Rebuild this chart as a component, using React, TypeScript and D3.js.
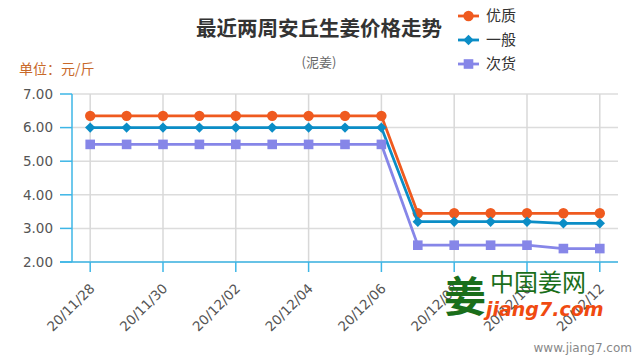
import React from "react";
import * as d3 from "d3";

const dates = [
  "20/11/28", "20/11/29", "20/11/30", "20/12/01", "20/12/02", "20/12/03", "20/12/04",
  "20/12/05", "20/12/06", "20/12/07", "20/12/08", "20/12/09", "20/12/10", "20/12/11", "20/12/12",
];
const youzhi = [6.35, 6.35, 6.35, 6.35, 6.35, 6.35, 6.35, 6.35, 6.35, 3.45, 3.45, 3.45, 3.45, 3.45, 3.45];
const yiban = [6.0, 6.0, 6.0, 6.0, 6.0, 6.0, 6.0, 6.0, 6.0, 3.2, 3.2, 3.2, 3.2, 3.15, 3.15];
const cihuo = [5.5, 5.5, 5.5, 5.5, 5.5, 5.5, 5.5, 5.5, 5.5, 2.5, 2.5, 2.5, 2.5, 2.4, 2.4];
const yTicks = [2, 3, 4, 5, 6, 7];

const seriesNames = ["优质", "一般", "次货"];
const seriesColors = ["#ef5a1f", "#0b8dc6", "#8686e8"];
const seriesShapes = ["circle", "diamond", "square"];

const W = 640;
const H = 360;
const L = 72;
const R = 618;
const T = 94;
const B = 262;

function Marker({ shape, x, y, color }: { shape: string; x: number; y: number; color: string }) {
  if (shape === "circle") return <circle cx={x} cy={y} r={5.2} fill={color} />;
  if (shape === "diamond")
    return <path d={`M${x},${y - 5.2}L${x + 5.2},${y}L${x},${y + 5.2}L${x - 5.2},${y}Z`} fill={color} />;
  return <rect x={x - 4.8} y={y - 4.8} width={9.6} height={9.6} fill={color} />;
}

export default function App() {
  const x = d3.scalePoint<string>().domain(dates).range([L, R]).padding(0.5);
  const y = d3.scaleLinear().domain([2, 7]).range([B, T]);
  const data = [youzhi, yiban, cihuo];
  const line = d3
    .line<number>()
    .x((_, i) => x(dates[i]) as number)
    .y((d) => y(d));
  const axisColor = "#3db6e6";
  const labeled = dates.filter((_, i) => i % 2 === 0);

  return (
    <svg width={W} height={H} style={{ position: "absolute", left: 0, top: 0, background: "#fff" }}
      fontFamily="'DejaVu Sans', Verdana, sans-serif">
      {/* grid */}
      {yTicks.map((t) => (
        <line key={"g" + t} x1={L} x2={R} y1={y(t)} y2={y(t)} stroke="#dcdcdc" strokeWidth={1.5} />
      ))}
      {labeled.map((d) => (
        <line key={"v" + d} x1={x(d)} x2={x(d)} y1={T} y2={B} stroke="#d8d8d8" strokeWidth={1.5} />
      ))}
      {/* axes */}
      <line x1={L} x2={L} y1={T} y2={B} stroke={axisColor} strokeWidth={1.5} />
      <line x1={60} x2={R} y1={B} y2={B} stroke={axisColor} strokeWidth={1.5} />
      {yTicks.map((t) => (
        <g key={"yt" + t}>
          <line x1={60} x2={L} y1={y(t)} y2={y(t)} stroke={axisColor} strokeWidth={1.5} />
          <text x={53} y={y(t)} dy="0.35em" textAnchor="end" fontSize={13.5} fill="#555">
            {t.toFixed(2)}
          </text>
        </g>
      ))}
      {labeled.map((d) => (
        <g key={"xt" + d}>
          <line x1={x(d)} x2={x(d)} y1={B} y2={B + 10} stroke={axisColor} strokeWidth={1.5} />
          <text
            transform={`translate(${(x(d) as number) + 2},${B + 24}) rotate(-45)`}
            textAnchor="end"
            fontSize={13.5}
            fill="#555"
            dy="0.35em"
          >
            {d}
          </text>
        </g>
      ))}
      {/* series */}
      {data.map((s, si) => (
        <g key={"s" + si}>
          <path d={line(s) || ""} fill="none" stroke={seriesColors[si]} strokeWidth={2.8} />
          {s.map((v, i) => (
            <Marker key={i} shape={seriesShapes[si]} x={x(dates[i]) as number} y={y(v)} color={seriesColors[si]} />
          ))}
        </g>
      ))}
      {/* titles */}
      <text x={319} y={36} textAnchor="middle" fontSize={20.5} fontWeight="bold" fill="#333"
        fontFamily="'Noto Sans CJK SC', sans-serif">
        最近两周安丘生姜价格走势
      </text>
      <text x={319} y={67} textAnchor="middle" fontSize={13} fill="#666"
        fontFamily="'Noto Sans CJK SC', sans-serif">
        (泥姜)
      </text>
      <text x={19} y={74} fontSize={14} fill="#c8692a" fontFamily="'Noto Sans CJK SC', sans-serif">
        单位：元/斤
      </text>
      {/* legend */}
      {seriesNames.map((n, i) => (
        <g key={"l" + n} transform={`translate(0,${16 + i * 24})`}>
          <line x1={458} x2={479} y1={0} y2={0} stroke={seriesColors[i]} strokeWidth={2.8} />
          <Marker shape={seriesShapes[i]} x={468.5} y={0} color={seriesColors[i]} />
          <text x={486} y={0} dy="0.36em" fontSize={15} fill="#333" fontFamily="'Noto Sans CJK SC', sans-serif">
            {n}
          </text>
        </g>
      ))}
      {/* watermark */}
      <text x={444} y={312} fontSize={42} fontWeight="bold" fill="#1a6e1a" fontFamily="'Noto Sans CJK SC', sans-serif">
        姜
      </text>
      <text x={490} y={291} fontSize={24} fill="#1a6e1a" fontFamily="'Noto Sans CJK SC', sans-serif">
        中国姜网
      </text>
      <text x={486} y={316} fontSize={19} fontWeight="bold" fontStyle="italic" fill="#f04a10"
        fontFamily="'DejaVu Sans', sans-serif">
        jiang7.com
      </text>
      <text x={632} y={352} textAnchor="end" fontSize={12} fill="#888" fontFamily="'DejaVu Sans', Verdana, sans-serif">
        www.jiang7.com
      </text>
    </svg>
  );
}
